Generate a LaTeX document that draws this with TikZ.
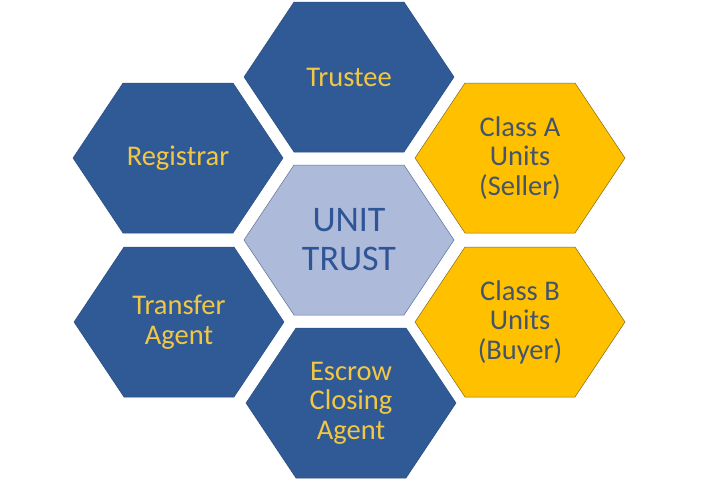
\documentclass[tikz,border=0pt]{standalone}
\usepackage{fontspec}
\setmainfont{Carlito}
\usetikzlibrary{calc}
\definecolor{hexblue}{HTML}{2F5A96}
\definecolor{hexedge}{HTML}{2A4F80}
\definecolor{hexgold}{HTML}{FFC000}
\definecolor{goldedge}{HTML}{7F6A20}
\definecolor{hexpale}{HTML}{ADBADA}
\definecolor{paleedge}{HTML}{5C7098}
\definecolor{txtgold}{HTML}{F2C744}
\definecolor{txtslate}{HTML}{44546A}
\definecolor{txtblue}{HTML}{2F5597}
\def\hexa[#1](#2,#3){\draw[#1, shift={(#2,#3)}] (-105,0) -- (-55,-75) -- (55,-75) -- (105,0) -- (55,75) -- (-55,75) -- cycle;}

\begin{document}
\begin{tikzpicture}[x=1pt, y=-1pt,
	hexlabel/.style={align=center, font=\fontsize{28.5}{29.5}\selectfont},
	bluehex/.style={fill=hexblue, draw=hexedge, line width=0.5pt},
	goldhex/.style={fill=hexgold, draw=goldedge, line width=0.5pt}]
	%%%%% START %%%%%
	\useasboundingbox (0,0) rectangle (720,480);
	
	\hexa[bluehex](349,77)
	\hexa[bluehex](178,158)
	\hexa[goldhex](520,158)
	\hexa[fill=hexpale, draw=paleedge, line width=0.5pt](349,240)
	\hexa[bluehex](179,322)
	\hexa[goldhex](520,322)
	\hexa[bluehex](351,403)
	
	\node[hexlabel, text=txtgold] (trustee) at (349,77) {Trustee};
	\node[hexlabel, text=txtgold] (registrar) at (178,158) {Registrar};
	\node[hexlabel, text=txtslate] (classa) at (520,158) {Class A\\Units\\(Seller)};
	\node[align=center, text=txtblue, font=\fontsize{36}{39}\selectfont] (unittrust) at (349,240) {UNIT\\TRUST};
	\node[hexlabel, text=txtgold] (transfer) at (179,322) {Transfer\\Agent};
	\node[hexlabel, text=txtslate] (classb) at (520,322) {Class B\\Units\\(Buyer)};
	\node[hexlabel, text=txtgold] (escrow) at (351,403) {Escrow\\Closing\\Agent};
	
	%%%%% END %%%%%
\end{tikzpicture}
\end{document}
